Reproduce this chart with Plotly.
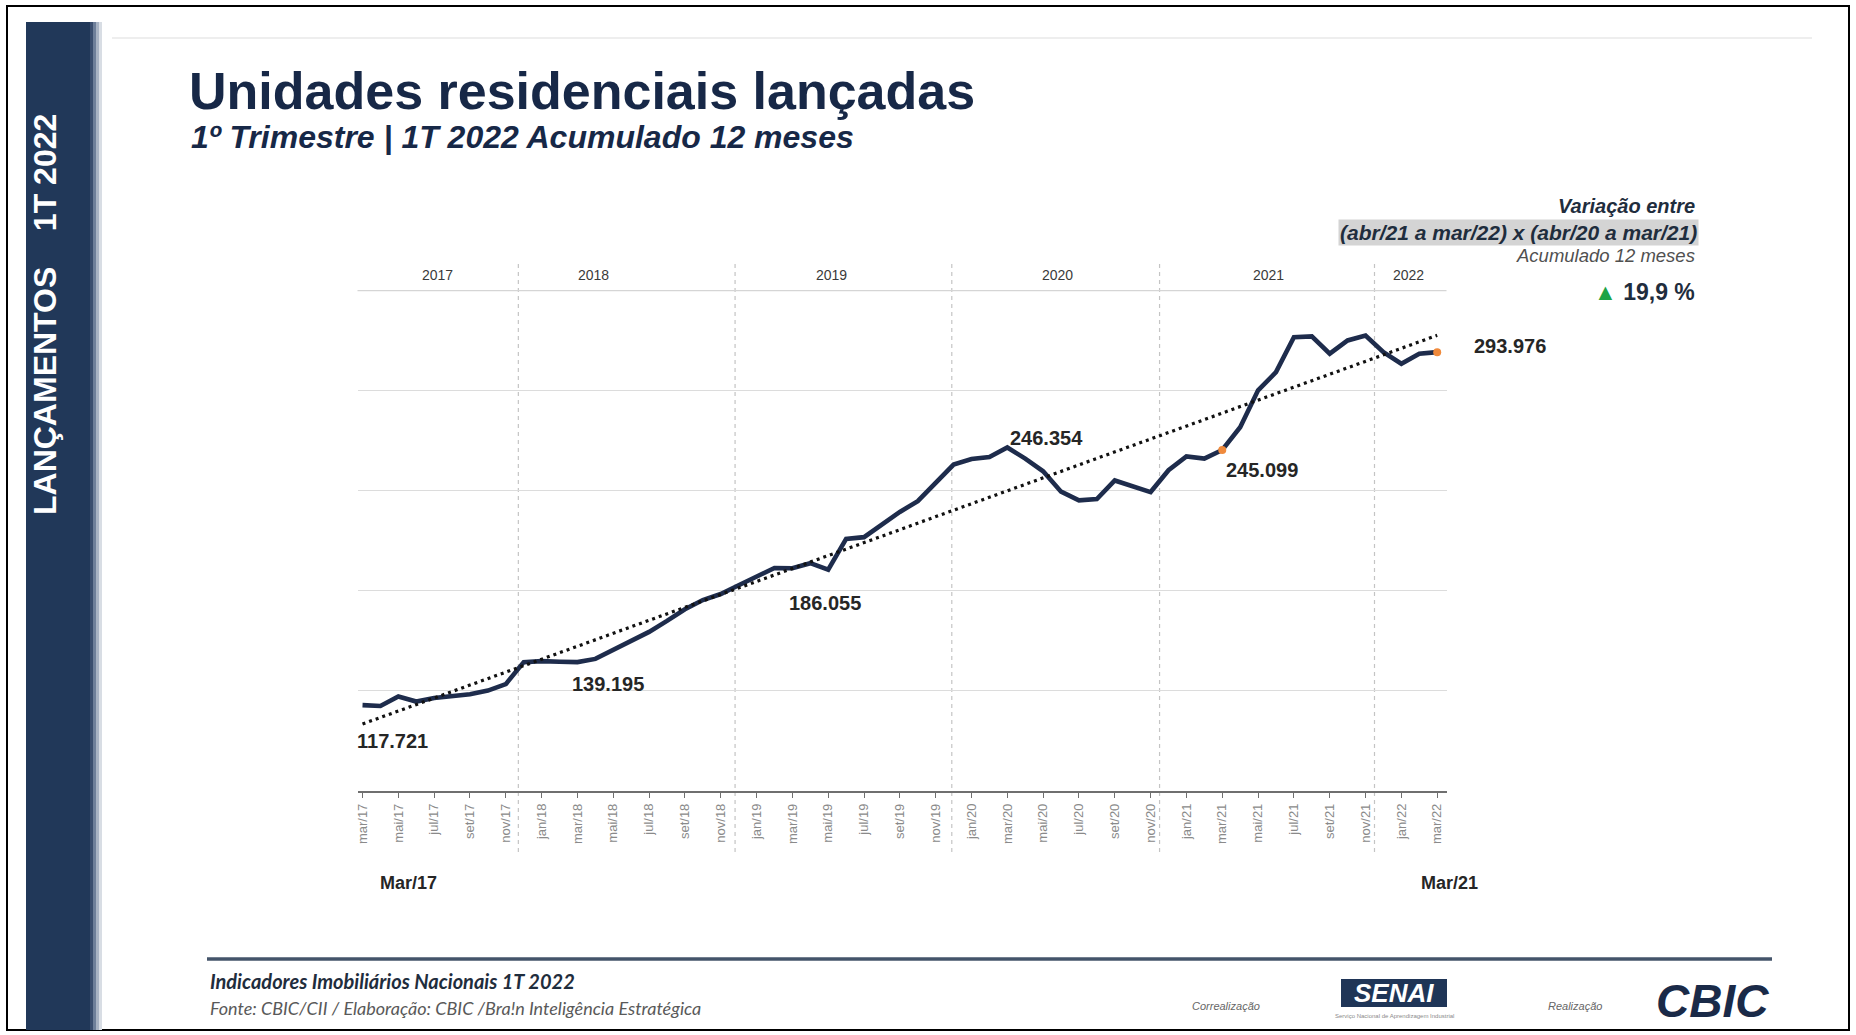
import numpy as np
import plotly.graph_objects as go

# ---------------- data ----------------
months = ["mar/17", "abr/17", "mai/17", "jun/17", "jul/17", "ago/17", "set/17", "out/17", "nov/17", "dez/17",
          "jan/18", "fev/18", "mar/18", "abr/18", "mai/18", "jun/18", "jul/18", "ago/18", "set/18", "out/18",
          "nov/18", "dez/18", "jan/19", "fev/19", "mar/19", "abr/19", "mai/19", "jun/19", "jul/19", "ago/19",
          "set/19", "out/19", "nov/19", "dez/19", "jan/20", "fev/20", "mar/20", "abr/20", "mai/20", "jun/20",
          "jul/20", "ago/20", "set/20", "out/20", "nov/20", "dez/20", "jan/21", "fev/21", "mar/21", "abr/21",
          "mai/21", "jun/21", "jul/21", "ago/21", "set/21", "out/21", "nov/21", "dez/21", "jan/22", "fev/22",
          "mar/22"]

unidades = [117721, 117300, 122000, 119500, 121300, 122200, 123200, 125000, 128200, 139200,
            139700, 139400, 139195, 140800, 145300, 149900, 154300, 159800, 165600, 170200,
            173200, 177600, 182000, 186200, 186055, 188600, 185400, 200700, 201600, 208000,
            214200, 219600, 228800, 237800, 240600, 241600, 246354, 240800, 234500, 224300,
            220000, 220600, 229900, 227200, 224100, 235000, 241900, 240800, 245099, 256500,
            274900, 284000, 301400, 301800, 293200, 299800, 302300, 294000, 288200, 293200,
            293976]

labeled_months = ["mar/17", "mar/18", "mar/19", "mar/20", "mar/21", "mar/22"]
highlight_months = ["mar/21", "mar/22"]
tick_labels = months[::2]
years = ["2017", "2018", "2019", "2020", "2021", "2022"]

# ---------------- layout helpers ----------------
W, H = 1856, 1035
def px(x):
    return x / W
def py(y):
    return 1 - y / H

def note(x, y, text, size, color, family="Liberation Sans, Arial", xanchor="center", **kw):
    fig.add_annotation(x=px(x), y=py(y), xref="paper", yref="paper", text=text, showarrow=False,
                       xanchor=xanchor, yanchor="middle",
                       font=dict(family=family, size=size, color=color), **kw)

idx = list(range(len(months)))
slope, intercept = np.polyfit(idx, unidades, 1)
trend = [slope * i + intercept for i in idx]

NAVY = "#1E2C4C"
fig = go.Figure()

fig.add_trace(go.Scatter(x=idx, y=unidades, mode="lines",
                         line=dict(color=NAVY, width=4.6), hoverinfo="skip", showlegend=False))
fig.add_trace(go.Scatter(x=idx, y=trend, mode="lines",
                         line=dict(color="#111111", width=3.2, dash="3px,4px"),
                         hoverinfo="skip", showlegend=False))
hi = [months.index(m) for m in highlight_months]
fig.add_trace(go.Scatter(x=hi, y=[unidades[i] for i in hi], mode="markers",
                         marker=dict(color="#F08A3C", size=8), hoverinfo="skip", showlegend=False))

# data labels (offsets in px)
label_offsets = [(30, -36), (31, -22), (33, -35), (39, 10), (40, -20), (73, 6)]
for m, (dx, dy) in zip(labeled_months, label_offsets):
    i = months.index(m)
    fig.add_annotation(x=i, y=unidades[i], xref="x", yref="y",
                       text="<b>" + f"{unidades[i]:,}".replace(",", ".") + "</b>", showarrow=False,
                       xshift=dx, yshift=dy,
                       font=dict(family="Liberation Sans, Arial", size=20, color="#262626"),
                       xanchor="center", yanchor="middle")

# year separators & labels
sep_pos = [8.7, 20.8, 32.9, 44.5, 56.5]
for s in sep_pos:
    fig.add_shape(type="line", xref="x", yref="paper", x0=s, x1=s, y0=py(852), y1=py(262),
                  line=dict(color="#C4C4C4", width=1.2, dash="4px,4px"), layer="below")
year_pos = [4.2, 12.9, 26.2, 38.8, 50.6, 58.4]
for yl, xp in zip(years, year_pos):
    fig.add_annotation(x=xp, y=py(275), xref="x", yref="paper", text=yl, showarrow=False,
                       xanchor="center", yanchor="middle",
                       font=dict(family="Liberation Sans Narrow, Liberation Sans, Arial", size=14, color="#3A3A3A"))

# top header line
fig.add_shape(type="line", xref="paper", yref="y", x0=px(357.5), x1=px(1446.5), y0=325000, y1=325000,
              line=dict(color="#D5D5D5", width=2.5), layer="below")

# ---------------- slide decorations ----------------
fig.add_shape(type="rect", xref="paper", yref="paper", x0=px(7), x1=px(1849), y0=py(1030), y1=py(6),
              line=dict(color="#000000", width=2), fillcolor="rgba(0,0,0,0)", layer="below")
fig.add_shape(type="line", xref="paper", yref="paper", x0=px(112), x1=px(1812), y0=py(38), y1=py(38),
              line=dict(color="#EEEEEE", width=2), layer="below")
fig.add_shape(type="rect", xref="paper", yref="paper", x0=px(26), x1=px(90), y0=py(1030), y1=py(22),
              line=dict(width=0), fillcolor="#213859", layer="below")
for k, c in enumerate(["#3A4E6E", "#6E7F99", "#A8B3C3", "#D8DDE4"]):
    fig.add_shape(type="rect", xref="paper", yref="paper", x0=px(90 + 3 * k), x1=px(93 + 3 * k),
                  y0=py(1030), y1=py(22), line=dict(width=0), fillcolor=c, layer="below")
note(45, 315, "<b>LANÇAMENTOS&nbsp;&nbsp;&nbsp;&nbsp;1T 2022</b>", 32, "white", textangle=-90)

# title
note(187, 91, "<b>Unidades residenciais lançadas</b>", 52, "#172847", xanchor="left")
note(189, 137, "<b><i>1º Trimestre | 1T 2022 Acumulado 12 meses</i></b>", 32, "#172847", xanchor="left")

# right info block
note(1697, 206, "<b><i>Variação entre</i></b>", 20, "#1F2D3D", xanchor="right")
note(1699, 232, "<b><i>(abr/21 a mar/22) x (abr/20 a mar/21)</i></b>", 21, "#1F2D3D", xanchor="right",
     bgcolor="#D4D4D4", borderpad=1)
note(1697, 256, "<i>Acumulado 12 meses</i>", 18.5, "#505050", xanchor="right")
note(1697, 292, "<span style='color:#1FA345'>▲</span> <b>19,9 %</b>", 23, "#1F2D3D", xanchor="right")

# Mar/17  Mar/21
note(408, 883, "<b>Mar/17</b>", 18, "#262626")
note(1449, 883, "<b>Mar/21</b>", 18, "#262626")

# footer
fig.add_shape(type="line", xref="paper", yref="paper", x0=px(207), x1=px(1772), y0=py(959), y1=py(959),
              line=dict(color="#44546A", width=3.5))
note(208, 981, "<b><i>Indicadores Imobiliários Nacionais 1T 2022</i></b>", 20, "#1F2D3D",
     family="Lato, Liberation Sans", xanchor="left")
note(208, 1008, "<i>Fonte: CBIC/CII / Elaboração: CBIC /Bra!n Inteligência Estratégica</i>", 18, "#595959",
     family="Lato, Liberation Sans", xanchor="left")
note(1226, 1006, "<i>Correalização</i>", 11, "#666666")
fig.add_shape(type="rect", xref="paper", yref="paper", x0=px(1341), x1=px(1447), y0=py(1007), y1=py(979),
              line=dict(width=0), fillcolor="#1F3557", layer="below")
note(1394, 993, "<b><i>SENAI</i></b>", 26, "white")
note(1394, 1016, "Serviço Nacional de Aprendizagem Industrial", 6, "#8A8A8A")
note(1575, 1006, "<i>Realização</i>", 11, "#666666")
note(1712, 1001, "<b><i>CBIC</i></b>", 46, "#1A2A48")

fig.update_layout(
    width=W, height=H,
    margin=dict(l=0, r=0, t=0, b=0),
    paper_bgcolor="white", plot_bgcolor="white",
    showlegend=False,
    xaxis=dict(domain=[px(357.5), px(1446.5)], range=[-0.28, 60.52], automargin=False,
               tickmode="array", tickvals=idx[::2], ticktext=tick_labels, tickangle=-90,
               ticks="outside", ticklen=6, tickcolor="#6F6F6F", tickwidth=1.3,
               showline=True, linecolor="#6F6F6F", linewidth=1.5,
               showgrid=False, zeroline=False,
               tickfont=dict(family="Liberation Sans, Arial", size=13, color="#8A8A8A")),
    yaxis=dict(domain=[py(790.7), py(290)], range=[75000, 325000], automargin=False,
               tickmode="array", tickvals=[125000, 175000, 225000, 275000],
               showticklabels=False, showgrid=True, gridcolor="#DCDCDC", gridwidth=1.3,
               zeroline=False, showline=False),
)

fig.write_html("out.html")
